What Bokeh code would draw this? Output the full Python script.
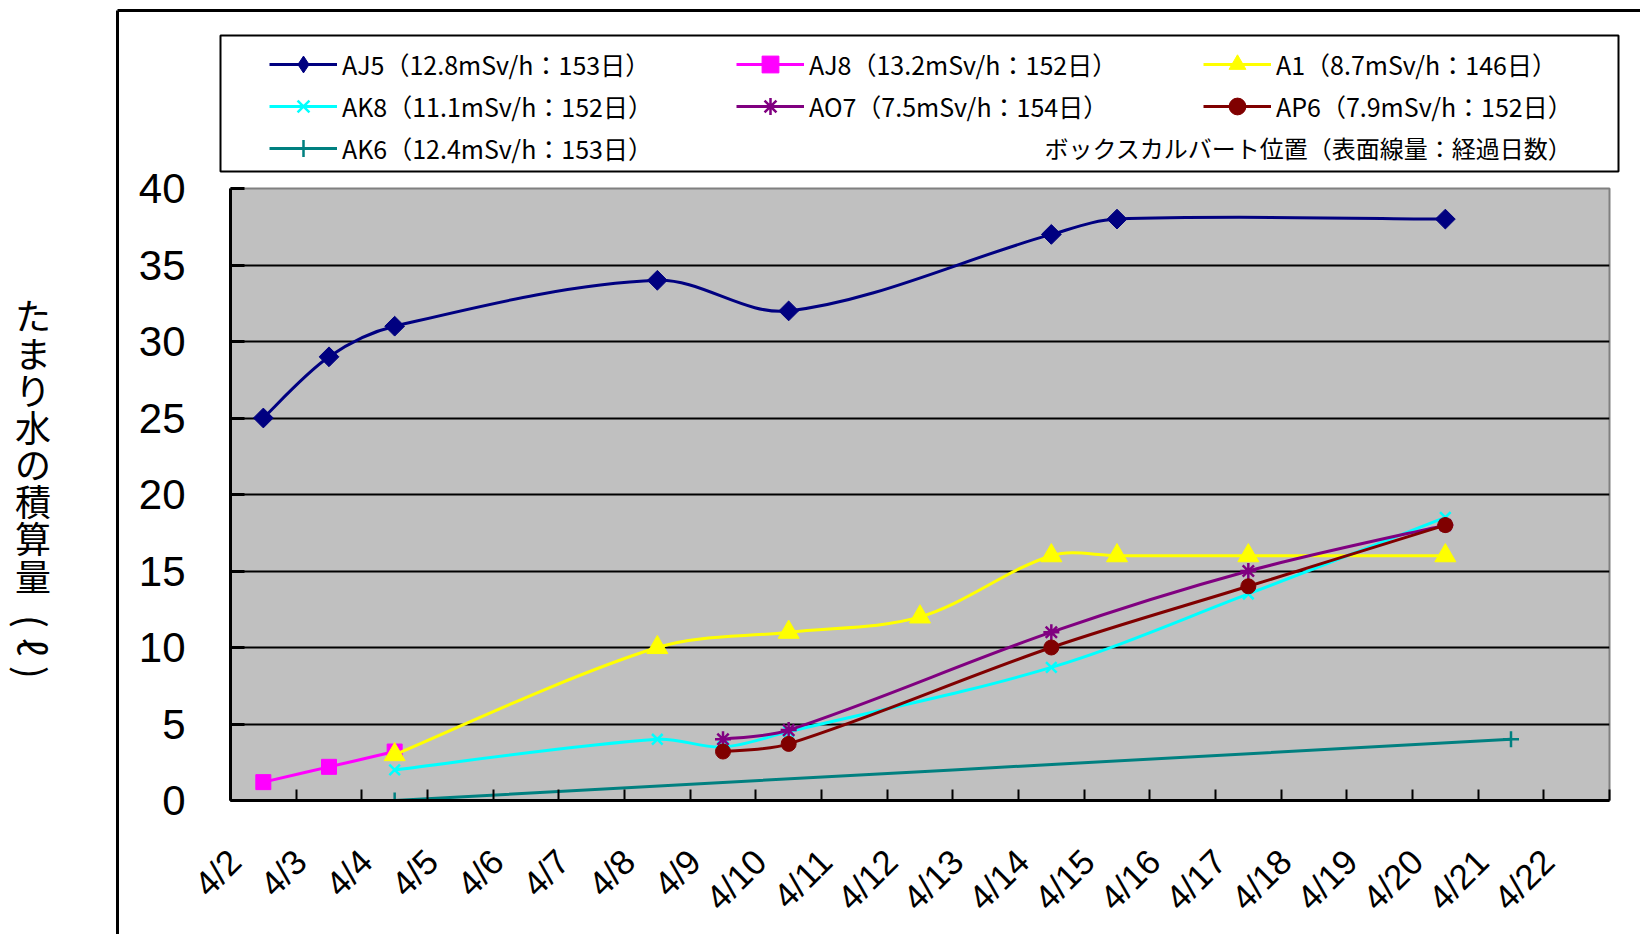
import math
from bokeh.plotting import figure
from bokeh.layouts import column, row
from bokeh.models import (ColumnDataSource, FixedTicker, Range1d, Label, Legend,
                          LegendItem)
from bokeh.embed import file_html
from bokeh.resources import INLINE

# ---------------- data ----------------
dates = ["4/2", "4/3", "4/4", "4/5", "4/6", "4/7", "4/8", "4/9", "4/10", "4/11",
         "4/12", "4/13", "4/14", "4/15", "4/16", "4/17", "4/18", "4/19", "4/20",
         "4/21", "4/22"]
y_ticks = [0, 5, 10, 15, 20, 25, 30, 35, 40]

aj5_days = ["4/2", "4/3", "4/4", "4/8", "4/10", "4/14", "4/15", "4/20"]
aj5_vals = [25, 29, 31, 34, 32, 37, 38, 38]
aj8_days = ["4/2", "4/3", "4/4"]
aj8_vals = [1.2, 2.2, 3.2]
a1_days = ["4/4", "4/8", "4/10", "4/12", "4/14", "4/15", "4/17", "4/20"]
a1_vals = [3, 10, 11, 12, 16, 16, 16, 16]
ak8_days = ["4/4", "4/8", "4/9", "4/10", "4/14", "4/17", "4/20"]
ak8_vals = [2, 4, 3.5, 4.5, 8.7, 13.5, 18.5]
ao7_days = ["4/9", "4/10", "4/14", "4/17", "4/20"]
ao7_vals = [4, 4.6, 11, 15, 18]
ap6_days = ["4/9", "4/10", "4/14", "4/17", "4/20"]
ap6_vals = [3.2, 3.7, 10, 14, 18]
ak6_days = ["4/4", "4/21"]
ak6_vals = [0, 4]

series_names = ["AJ5（12.8mSv/h：153日）", "AJ8（13.2mSv/h：152日）", "A1（8.7mSv/h：146日）",
                "AK8（11.1mSv/h：152日）", "AO7（7.5mSv/h：154日）", "AP6（7.9mSv/h：152日）",
                "AK6（12.4mSv/h：153日）"]
note_text = "ボックスカルバート位置（表面線量：経過日数）"
y_title = "たまり水の積算量"
y_title_unit = ["(", "ℓ", ")"]

# ---------------- layout (page pixels) ----------------
PW, PH = 1640, 934          # whole picture
TOP_H = 173                 # legend strip height
OVL = 25                    # overlap of the lower row with the legend strip
ROW_T = TOP_H - OVL
LEFT_W = 119                # y-title strip width
FL, FR, FT, FB = 230, 1609, 188, 801   # plot-area frame on the page

MW, MH = PW - LEFT_W, PH - ROW_T

CJK = "Noto Sans CJK JP"
NUM = "Liberation Sans"


def blank(w, h, x0, x1, y0, y1):
    f = figure(width=w, height=h, output_backend="svg", toolbar_location=None,
               x_range=Range1d(x0, x1), y_range=Range1d(y0, y1),
               x_axis_type=None, y_axis_type=None,
               min_border_left=0, min_border_right=0, min_border_top=0, min_border_bottom=0,
               background_fill_color=None, border_fill_color=None)
    f.outline_line_color = None
    f.frame_align = False
    return f


# ---------------- top strip: legend ----------------
top = blank(PW, TOP_H, 0, PW, TOP_H, 0)
top.background_fill_color = "white"
top.segment(x0=[117], y0=[10], x1=[PW], y1=[10], line_color="black", line_width=3)
top.segment(x0=[117], y0=[10], x1=[117], y1=[TOP_H], line_color="black", line_width=3)
top.quad(left=[220], right=[1618], top=[35], bottom=[171], fill_color="white",
         line_color="black", line_width=2)

# ---------------- left strip: axis title ----------------
left = blank(LEFT_W, MH, 0, LEFT_W, PH, ROW_T)
left.segment(x0=[117], y0=[ROW_T], x1=[117], y1=[PH], line_color="black", line_width=3)
left.add_layout(Label(x=32.5, y=444, text="\n".join(y_title), text_align="center",
                      text_baseline="middle", text_font=CJK, text_font_size="36px",
                      text_line_height=0.715, text_color="black"))
for ch, yy in zip(y_title_unit, [621, 646.5, 672]):
    left.add_layout(Label(x=32.5, y=yy, text=ch, angle=-math.pi / 2,
                          text_align="center", text_baseline="middle", text_font=CJK,
                          text_font_size="38px", text_color="black"))

# ---------------- main chart ----------------
p = figure(width=MW, height=MH, output_backend="svg", toolbar_location=None,
           x_range=Range1d(-0.5, 20.5), y_range=Range1d(0, 40),
           min_border_left=FL - LEFT_W, min_border_right=PW - FR,
           min_border_top=FT - ROW_T, min_border_bottom=PH - FB,
           background_fill_color="#C0C0C0", border_fill_color=None)
p.frame_align = False
p.outline_line_color = "#808080"
p.outline_line_width = 2
p.xgrid.visible = False
p.ygrid.ticker = FixedTicker(ticks=y_ticks[1:-1])
p.ygrid.grid_line_color = "black"
p.ygrid.grid_line_width = 2

XPU = (FR - FL) / 21.0
YPU = (FB - FT) / 40.0

yax = p.yaxis[0]
yax.ticker = FixedTicker(ticks=y_ticks)
yax.major_label_text_font = NUM
yax.major_label_text_font_size = "42px"
yax.major_label_text_color = "black"
yax.major_tick_out = 0
yax.major_tick_in = 14
yax.major_tick_line_width = 3
yax.minor_tick_line_color = None
yax.major_label_standoff = 45
yax.axis_line_width = 3
yax.axis_line_color = "black"

off = 0.4375
xax = p.xaxis[0]
lab_pos = [i - off for i in range(len(dates))]
xax.ticker = FixedTicker(ticks=lab_pos, minor_ticks=[i + 0.5 for i in range(-1, len(dates))])
xax.major_label_overrides = {pos: d for pos, d in zip(lab_pos, dates)}
xax.major_label_orientation = math.pi / 4
xax.major_label_text_font = NUM
xax.major_label_text_font_size = "35px"
xax.major_label_text_color = "black"
xax.major_tick_line_color = None
xax.major_tick_in = 0
xax.major_tick_out = 0
xax.minor_tick_in = 11
xax.minor_tick_out = 0
xax.minor_tick_line_width = 2
xax.minor_tick_line_color = "black"
xax.major_label_standoff = 55
xax.axis_line_width = 3
xax.axis_line_color = "black"


def ctrl(xs, ys):
    """Bezier control points of a smoothed line through the data points."""
    n = len(xs)
    out = dict(x0=[], y0=[], x1=[], y1=[], cx0=[], cy0=[], cx1=[], cy1=[])

    def dist(i, j):
        return math.hypot((xs[i] - xs[j]) * XPU, (ys[i] - ys[j]) * YPU)

    for i in range(n - 1):
        a = max(i - 1, 0)
        d = min(i + 2, n - 1)
        d12 = dist(i, i + 1)
        f1 = 0.5 if a == i else d12 / (dist(a, i) + d12)
        f2 = 0.5 if d == i + 1 else d12 / (d12 + dist(i + 1, d))
        k1, k2 = f1 / 3.0, f2 / 3.0
        out["x0"].append(xs[i]); out["y0"].append(ys[i])
        out["x1"].append(xs[i + 1]); out["y1"].append(ys[i + 1])
        out["cx0"].append(xs[i] + (xs[i + 1] - xs[a]) * k1)
        out["cy0"].append(ys[i] + (ys[i + 1] - ys[a]) * k1)
        out["cx1"].append(xs[i + 1] - (xs[d] - xs[i]) * k2)
        out["cy1"].append(ys[i + 1] - (ys[d] - ys[i]) * k2)
    return out


specs = [
    (aj5_days, aj5_vals, "#000080", dict(marker="square", size=14, angle=math.pi / 4),
     dict(marker="diamond"), 3),
    (aj8_days, aj8_vals, "#FF00FF", dict(marker="square", size=15), {}, 3),
    (a1_days, a1_vals, "#FFFF00", dict(marker="triangle", size=21), {}, 3),
    (ak8_days, ak8_vals, "#00FFFF", dict(marker="x", size=15, line_width=2.5), {}, 3),
    (ao7_days, ao7_vals, "#800080", dict(marker="asterisk", size=16, line_width=2.5), {}, 3),
    (ap6_days, ap6_vals, "#800000", dict(marker="circle", size=15), {}, 3),
    (ak6_days, ak6_vals, "#008080", dict(marker="cross", size=16, line_width=2.5), {}, 3),
]

items = []
for (days, vals, col, mk, leg_mk, lw), name in zip(specs, series_names):
    xs = [dates.index(d) for d in days]
    src = ColumnDataSource(ctrl(xs, vals))
    p.bezier(x0="x0", y0="y0", x1="x1", y1="y1", cx0="cx0", cy0="cy0", cx1="cx1", cy1="cy1",
             source=src, line_color=col, line_width=lw, line_cap="round")
    p.scatter(x=xs, y=vals, fill_color=col, line_color=col, **mk)
    # legend samples (kept outside the visible range of the legend strip)
    lmk = dict(mk)
    lmk.pop("angle", None)
    lmk.update(leg_mk)
    ln = top.line(x=[-200, -100], y=[-100, -100], line_color=col, line_width=lw)
    sc = top.scatter(x=[-100], y=[-100], fill_color=col, line_color=col, **lmk)
    items.append(LegendItem(label=name, renderers=[ln, sc]))

legend = Legend(items=items, location=(269, 4), orientation="horizontal", ncols=3,
                border_line_color=None, background_fill_alpha=0, padding=0, margin=0,
                spacing=0, glyph_width=68, glyph_height=42, label_height=42,
                label_width=394, label_standoff=5,
                label_text_font=CJK, label_text_font_size="25px",
                label_text_color="black")
top.add_layout(legend)
top.add_layout(Label(x=1572, y=146.6, text=note_text, text_align="right",
                     text_baseline="middle", text_font=CJK, text_font_size="24px",
                     text_color="black"))

lower = row(left, p, spacing=0, margin=(-OVL, 0, 0, 0))
page = column(top, lower, spacing=0)
open("out.html", "w").write(file_html(page, INLINE))
